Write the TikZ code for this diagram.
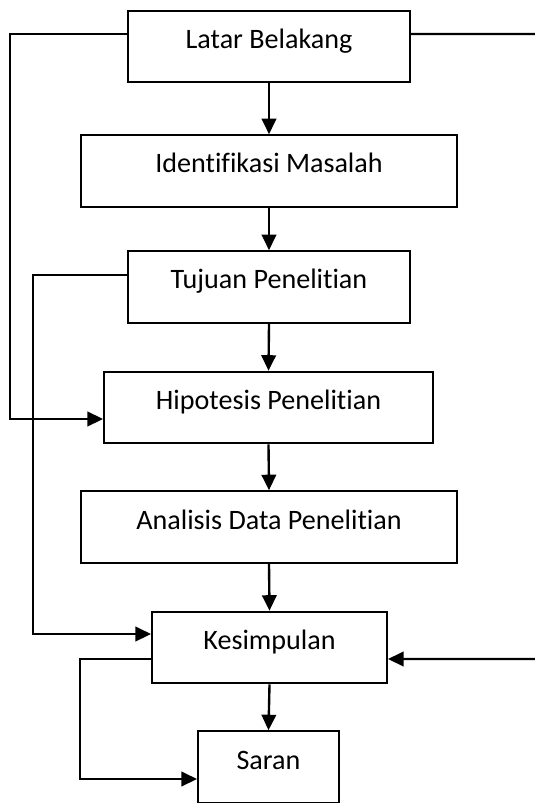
\documentclass[tikz,border=0pt]{standalone}
\usepackage{fontspec}
\setmainfont[Ligatures=NoCommon]{Carlito}
\usetikzlibrary{shapes.geometric, arrows.meta}

\begin{document}
\begin{tikzpicture}
                                [
                                    x=0.02cm, y=-0.02cm,
                                    box/.style = {draw, shape=rectangle, minimum height=1.43cm, line width=1.2pt, font=\fontsize{16}{19}\selectfont, text height=0.35cm, text depth=0.27cm},
                                    flow/.style = {line width=1.35pt, -{Triangle[length=0.31cm, width=0.29cm]}},
                                    plain/.style = {line width=1.35pt},
                                ]
                                \useasboundingbox (0,0) rectangle (534,803);

                                \node[box, minimum width=5.64cm] (latar) at (269,46.5)      {Latar Belakang};
                                \node[box, minimum width=7.52cm] (ident) at (269,171)       {Identifikasi Masalah};
                                \node[box, minimum width=5.64cm] (tujuan) at (269,287)      {Tujuan Penelitian};
                                \node[box, minimum width=6.58cm] (hipo) at (268.5,407.5)    {Hipotesis Penelitian};
                                \node[box, minimum width=7.52cm] (analisis) at (269,527)    {Analisis Data Penelitian};
                                \node[box, minimum width=4.70cm] (kesim) at (269.5,647.5)   {Kesimpulan};
                                \node[box, minimum width=2.82cm] (saran) at (268.5,767)     {Saran};

                                \coordinate (kanan1) at (536,34);
                                \coordinate (kanan2) at (536,659);

                                \draw [flow] (latar.south) -- (ident.north);
                                \draw [flow] (ident.south) -- (tujuan.north);
                                \draw [flow] (tujuan.south) -- (hipo.north);
                                \draw [flow] (hipo.south) -- (analisis.north);
                                \draw [flow] (analisis.south) -- (kesim.north);
                                \draw [flow] (kesim.south) -- (saran.north);

                                \draw [plain] ([yshift=0.25cm]latar.east) -- (kanan1);
                                \draw [flow] (kanan2) -- ([yshift=-0.23cm]kesim.east);

                                \draw [flow] ([yshift=0.25cm]latar.west) -- ++(-117,0) |- ([yshift=-0.23cm]hipo.west);
                                \draw [flow] ([yshift=0.24cm]tujuan.west) -- ++(-94,0) |- ([yshift=0.27cm]kesim.west);
                                \draw [flow] ([yshift=-0.23cm]kesim.west) -- ++(-71,0) |- ([yshift=-0.24cm]saran.west);
                            \end{tikzpicture}
\end{document}
